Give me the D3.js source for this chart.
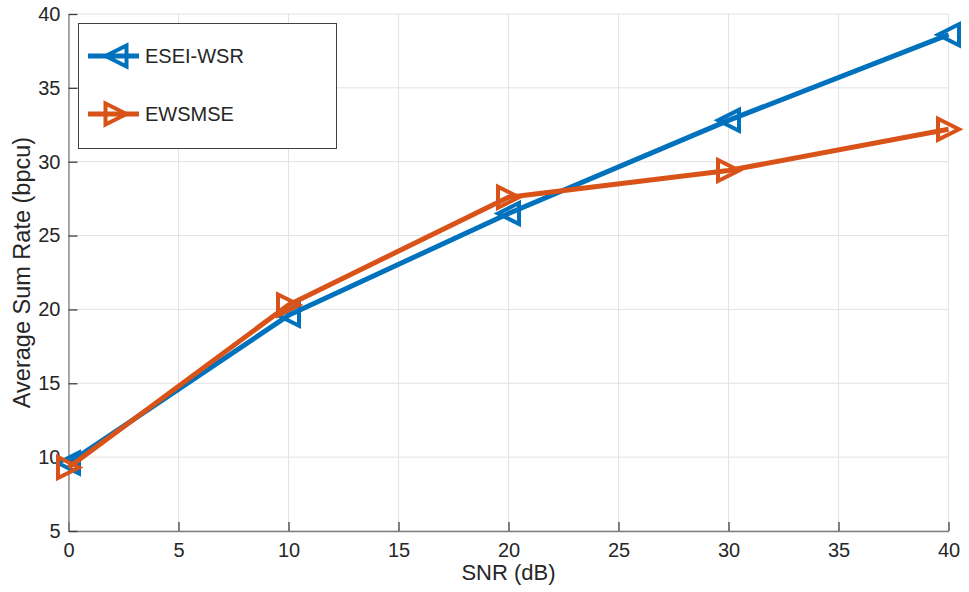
<!DOCTYPE html>
<html><head><meta charset="utf-8">
<script src="https://cdn.jsdelivr.net/npm/d3@7"></script>
<style>body{margin:0;background:#fff;} text{font-family:"Liberation Sans",Arial,sans-serif;fill:#262626;}</style>
</head><body>
<svg id="c" width="969" height="592"></svg>
<script>
const snr = [0, 10, 20, 30, 40];
const eseiWsr = [9.6, 19.6, 26.5, 32.8, 38.6];
const ewsmse = [9.3, 20.3, 27.6, 29.4, 32.2];
const seriesNames = ["ESEI-WSR", "EWSMSE"];
const xTicks = [0, 5, 10, 15, 20, 25, 30, 35, 40];
const yTicks = [5, 10, 15, 20, 25, 30, 35, 40];

const svg = d3.select("#c");
const L = 68.5, R = 948.5, T = 14, B = 531;
const x = d3.scaleLinear().domain([0, 40]).range([L, R]);
const y = d3.scaleLinear().domain([5, 40]).range([B, T]);

// grid
svg.append("g").selectAll("line").data(xTicks).join("line")
  .attr("x1", d => x(d)).attr("x2", d => x(d)).attr("y1", T).attr("y2", B)
  .attr("stroke", "#e3e3e3").attr("stroke-width", 1);
svg.append("g").selectAll("line").data(yTicks).join("line")
  .attr("y1", d => y(d)).attr("y2", d => y(d)).attr("x1", L).attr("x2", R)
  .attr("stroke", "#e3e3e3").attr("stroke-width", 1);

// axes
const xa = svg.append("g").attr("transform", `translate(0,${B})`)
  .call(d3.axisBottom(x).tickValues(xTicks).tickSizeInner(-9).tickSizeOuter(0).tickPadding(12));
const ya = svg.append("g").attr("transform", `translate(${L},0)`)
  .call(d3.axisLeft(y).tickValues(yTicks).tickSizeInner(-9).tickSizeOuter(0).tickPadding(8));
[xa, ya].forEach(a => {
  a.select(".domain").attr("stroke", "#808080").attr("stroke-width", 1.3);
  a.selectAll(".tick line").attr("stroke", "#404040").attr("stroke-width", 1.3);
  a.selectAll("text").attr("font-size", 20).attr("fill", "#262626")
    .style("font-family", "'Liberation Sans',Arial,sans-serif");
});
xa.selectAll("text").attr("dy", null).attr("y", 26);

// labels
svg.append("text").attr("x", (L + R) / 2).attr("y", 580).attr("text-anchor", "middle")
  .attr("font-size", 22).text("SNR (dB)");
svg.append("text").attr("transform", `translate(30,${(T + B) / 2}) rotate(-90)`)
  .attr("text-anchor", "middle").attr("font-size", 23.5).text("Average Sum Rate (bpcu)");

const colors = ["#0072BD", "#D95319"];
const data = [eseiWsr, ewsmse];
const line = d3.line().x((d, i) => x(snr[i])).y(d => y(d));
const tri = (dir) => {
  const s = 10.5;
  return dir < 0 ? `M${-s},0L${s},${-s}L${s},${s}Z` : `M${s},0L${-s},${-s}L${-s},${s}Z`;
};
data.forEach((vals, k) => {
  svg.append("path").datum(vals).attr("d", line).attr("fill", "none")
    .attr("stroke", colors[k]).attr("stroke-width", 5).attr("stroke-linejoin", "round");
  svg.append("g").selectAll("path").data(vals).join("path")
    .attr("transform", (d, i) => `translate(${x(snr[i])},${y(d)})`)
    .attr("d", tri(k === 0 ? -1 : 1)).attr("fill", "none")
    .attr("stroke", colors[k]).attr("stroke-width", 4).attr("stroke-linejoin", "miter");
});

// legend
const lg = svg.append("g");
lg.append("rect").attr("x", 78.5).attr("y", 23.5).attr("width", 258).attr("height", 125)
  .attr("fill", "#fff").attr("stroke", "#404040").attr("stroke-width", 1);
seriesNames.forEach((n, k) => {
  const yy = k === 0 ? 56 : 114;
  lg.append("line").attr("x1", 88).attr("x2", 139).attr("y1", yy).attr("y2", yy)
    .attr("stroke", colors[k]).attr("stroke-width", 5);
  lg.append("path").attr("transform", `translate(116,${yy})`).attr("d", tri(k === 0 ? -1 : 1))
    .attr("fill", "none").attr("stroke", colors[k]).attr("stroke-width", 4);
  lg.append("text").attr("x", 145).attr("y", yy + 7).attr("font-size", 20).text(n);
});
</script>
</body></html>
